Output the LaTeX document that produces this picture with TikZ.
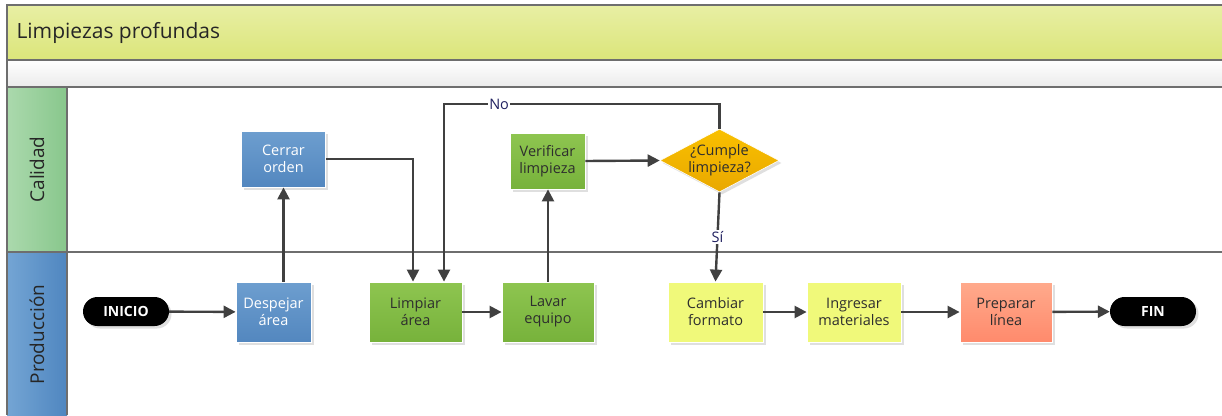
\documentclass[tikz,border=0pt]{standalone}
\usepackage{fontspec}
\setmainfont{Open Sans}
\usetikzlibrary{shapes.geometric,arrows.meta,shadows}

\definecolor{framegray}{HTML}{6E6E6E}
\definecolor{arrgray}{HTML}{404040}
\definecolor{titletop}{HTML}{E8EFA4}
\definecolor{titlebot}{HTML}{DBE57A}
\definecolor{calleft}{HTML}{ABD9AD}
\definecolor{calright}{HTML}{88C78C}
\definecolor{prodleft}{HTML}{74A5D4}
\definecolor{prodright}{HTML}{4F86C0}
\definecolor{bluetop}{HTML}{6D9ECF}
\definecolor{bluebot}{HTML}{5387BF}
\definecolor{greentop}{HTML}{8EC550}
\definecolor{greenbot}{HTML}{77B23B}
\definecolor{yellowbox}{HTML}{F0F97A}
\definecolor{salmontop}{HTML}{FFAA8C}
\definecolor{salmonbot}{HTML}{FF8A6C}
\definecolor{dectop}{HTML}{F9C000}
\definecolor{decbot}{HTML}{E9A800}
\definecolor{boxtext}{HTML}{2E2E2E}
\definecolor{lbltext}{HTML}{202060}

\tikzset{
  boxshadow/.style={drop shadow={shadow xshift=2.5pt,shadow yshift=-2.5pt,fill=black!25,opacity=.5}},
  procbox/.style={rectangle, minimum width=92pt, minimum height=60pt, inner sep=1pt,
    align=center, font=\fontsize{14.5}{17}\selectfont, draw=white, line width=0.8pt, boxshadow},
  bluebox/.style={procbox, top color=bluetop, bottom color=bluebot, text=white},
  greenbox/.style={procbox, top color=greentop, bottom color=greenbot, text=boxtext},
  yellowproc/.style={procbox, fill=yellowbox, text=boxtext},
  salmonbox/.style={procbox, top color=salmontop, bottom color=salmonbot, text=boxtext},
  decision/.style={diamond, aspect=1.9, inner sep=-4pt, minimum width=119pt, minimum height=63pt,
    top color=dectop, bottom color=decbot, draw=white, line width=0.6pt, text=boxtext,
    align=center, font=\fontsize{14.5}{17}\selectfont, boxshadow},
  terminal/.style={rectangle, rounded corners=14.5pt, minimum width=86pt, minimum height=29pt,
    fill=black, text=white, font=\fontsize{14}{16}\selectfont\bfseries, boxshadow},
  arr/.style={draw=arrgray, line width=2.4pt, -{Triangle[length=12pt,width=12pt]}},
  lbl/.style={fill=white, inner sep=1pt, text=lbltext, font=\fontsize{14.5}{16}\selectfont},
  lanelabel/.style={rotate=90, font=\fontsize{19}{21}\selectfont, text=black!85}
}

\begin{document}
\begin{tikzpicture}[x=1pt,y=-1pt]
\useasboundingbox (0,0) rectangle (1222,415);

% pool header and swimlanes
\fill[top color=titletop, bottom color=titlebot] (7,5) rectangle (1222,60);
\fill[top color=white, bottom color=black!8] (7,60) rectangle (1222,87);
\node[anchor=west, font=\fontsize{21}{24}\selectfont, text=black!85] (title) at (13,32.5) {Limpiezas profundas};
\node[minimum width=60pt, minimum height=165pt, inner sep=0pt, left color=calleft, right color=calright] (calhead) at (37,169.5) {};
\node[minimum width=60pt, minimum height=165pt, inner sep=0pt, left color=prodleft, right color=prodright] (prodhead) at (37,334.5) {};
\node[lanelabel] (callbl) at (calhead) {Calidad};
\node[lanelabel] (prodlbl) at (prodhead) {Producción};
\draw[framegray, line width=1.5pt] (1222,5) -- (7,5) -- (7,415);
\draw[framegray, line width=1.2pt] (7,60) -- (1222,60);
\draw[framegray, line width=1.2pt] (7,87) -- (1222,87);
\draw[framegray, line width=1.2pt] (7,252) -- (1222,252);
\draw[framegray, line width=1.2pt] (67,87) -- (67,415);

% Producción lane
\node[terminal] (inicio) at (126,311.5) {INICIO};
\node[bluebox, minimum width=75pt] (desp) at (273.5,312) {Despejar\\área};
\node[greenbox, minimum width=93pt] (limp) at (415.5,312) {Limpiar\\área};
\node[greenbox] (lavar) at (548,312) {Lavar\\equipo};
\node[yellowproc, minimum width=95pt] (camb) at (715.5,312) {Cambiar\\formato};
\node[yellowproc, minimum width=94pt] (ingr) at (854,312) {Ingresar\\materiales};
\node[salmonbox] (prep) at (1006,312) {Preparar\\línea};
\node[terminal] (fin) at (1153,311.5) {FIN};

% Calidad lane
\node[bluebox, minimum width=84pt, minimum height=56pt] (cerrar) at (283.5,159) {Cerrar\\orden};
\node[greenbox, minimum width=75pt, minimum height=56pt] (verif) at (547.5,161) {Verificar\\limpieza};
\node[decision] (dec) at (719.5,160.5) {¿Cumple\\limpieza?};

% entry points on top of Limpiar área
\coordinate (limpA) at ([xshift=-2.5pt]limp.north);
\coordinate (limpB) at ([xshift=28.5pt]limp.north);
\coordinate (noturn) at (719.5,104);

% connectors
\draw[arr] (inicio) -- (desp);
\draw[arr] (cerrar.south |- desp.north) -- (cerrar.south);
\draw[arr] (cerrar.east) -| (limpA);
\draw[arr] (dec.north) -- (noturn) -- node[lbl, pos=0.8] {No} (noturn -| limpB) -- (limpB);
\draw[arr] (limp) -- (lavar);
\draw[arr] (lavar.north) -- (lavar.north |- verif.south);
\draw[arr] (verif.east) -- (dec.west);
\draw[arr] (dec.south) -- node[lbl, pos=0.5] {Sí} (camb.north);
\draw[arr] (camb) -- (ingr);
\draw[arr] (ingr) -- (prep);
\draw[arr] (prep) -- (fin);
\end{tikzpicture}
\end{document}
